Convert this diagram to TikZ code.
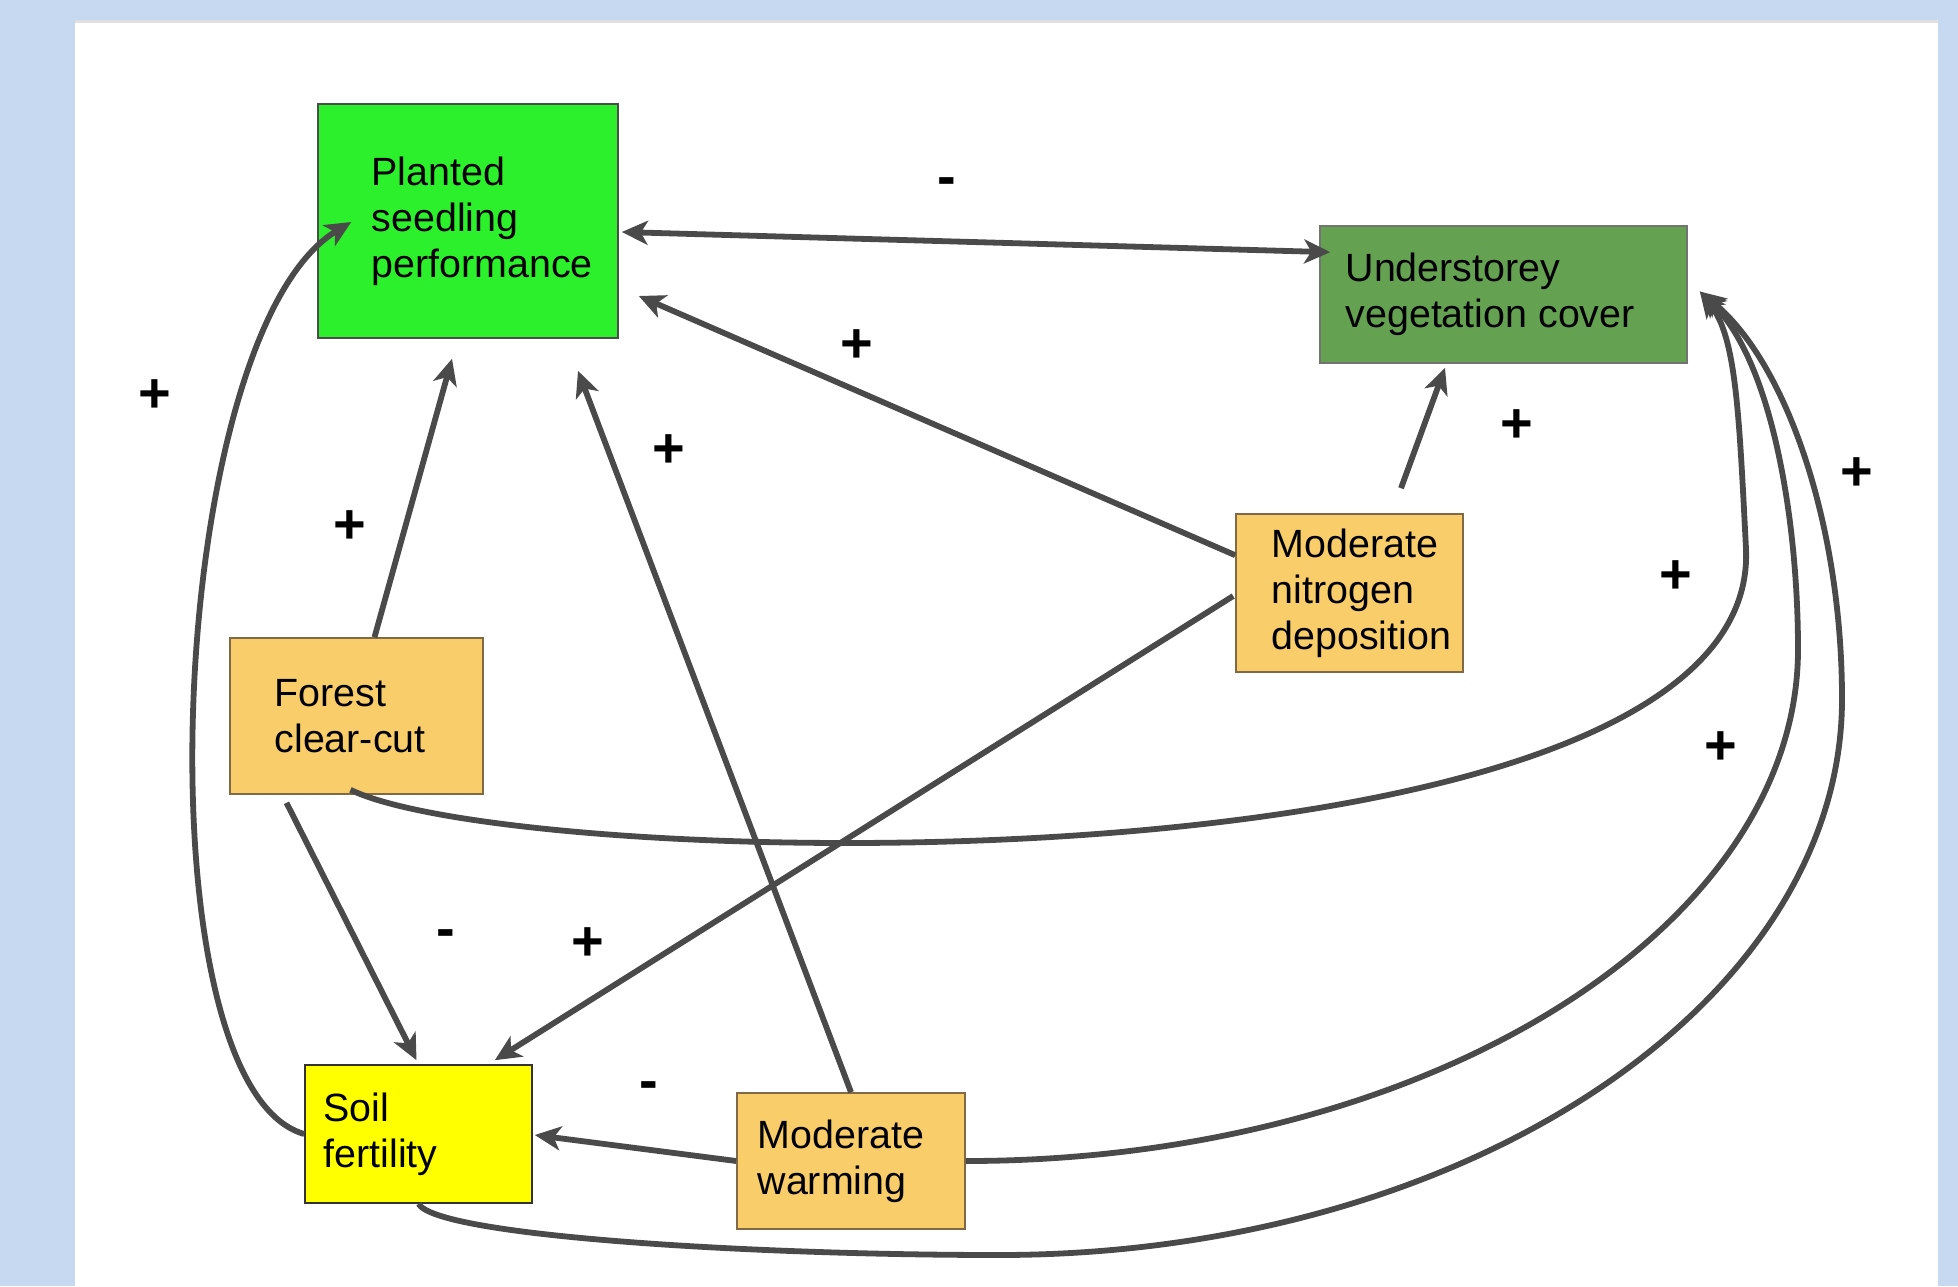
\documentclass[tikz,border=0pt]{standalone}
\usepackage{fontspec}
\setmainfont{Liberation Sans}
\usetikzlibrary{arrows.meta,calc}
\definecolor{bgblue}{RGB}{198,217,240}
\definecolor{bright}{RGB}{44,240,44}
\definecolor{darkgr}{RGB}{100,162,82}
\definecolor{orng}{RGB}{249,205,106}
\definecolor{yel}{RGB}{255,255,0}
\definecolor{arr}{RGB}{74,74,74}
\definecolor{edgebr}{RGB}{130,105,70}
\begin{document}
\begin{tikzpicture}[x=0.5pt,y=-0.5pt,
  box/.style={rectangle, line width=0.8pt, inner sep=0pt},
  txt/.style={inner sep=0pt, align=left, anchor=west, font=\fontsize{19.7pt}{23pt}\selectfont},
  con/.style={draw=arr, line width=2.9pt, -{Stealth[length=13pt,width=12pt,inset=3.5pt]}},
  dcon/.style={draw=arr, line width=2.9pt, {Stealth[length=13pt,width=12pt,inset=3.5pt]}-{Stealth[length=13pt,width=12pt,inset=3.5pt]}},
  sgn/.style={inner sep=0pt, font=\fontsize{28pt}{28pt}\selectfont\bfseries}]
\useasboundingbox (0,0) rectangle (1958,1286);
\fill[bgblue] (0,0) rectangle (1958,1286);
\fill[white] (75,20) rectangle (1938,1286);
\draw[black!12, line width=1.5pt] (75,21) -- (1938,21);

% boxes
\node[box, fill=bright, draw=black!70, minimum width=150pt, minimum height=117pt] (ps) at (468,221) {};
\node[txt] (pst) at ($(ps.west)+(54,0)$) {Planted\\seedling\\performance};
\node[box, fill=darkgr, draw=black!55, minimum width=183.5pt, minimum height=68.5pt] (uv) at (1503.5,294.5) {};
\node[txt] (uvt) at ($(uv.west)+(26,0)$) {Understorey\\vegetation cover};
\node[box, fill=orng, draw=edgebr, minimum width=113.5pt, minimum height=79pt] (nd) at (1349.5,593) {};
\node[txt] (ndt) at ($(nd.west)+(36,0)$) {Moderate\\nitrogen\\deposition};
\node[box, fill=orng, draw=edgebr, minimum width=126.5pt, minimum height=78pt] (fc) at (356.5,716) {};
\node[txt] (fct) at ($(fc.west)+(45,0)$) {Forest\\clear-cut};
\node[box, fill=yel, draw=black!80, minimum width=113.5pt, minimum height=69pt] (sf) at (418.5,1134) {};
\node[txt] (sft) at ($(sf.west)+(19,0)$) {Soil\\fertility};
\node[box, fill=orng, draw=edgebr, minimum width=114pt, minimum height=68pt] (mw) at (851,1161) {};
\node[txt] (mwt) at ($(mw.west)+(21,0)$) {Moderate\\warming};

% straight connectors
\draw[dcon] ($(ps.east)+(3,11)$) -- ($(uv.north west)+(11,27)$);
\draw[con] ($(nd.north west)+(0,42)$) -- ($(ps.east)+(20,75)$);
\draw[con] ($(nd.north)+(51.5,-25)$) -- ($(uv.south)+(-58.5,4)$);
\draw[con] ($(nd.west)+(-2,3)$) -- ($(sf.north east)+(-38,-4)$);
\draw[con] ($(fc.north)+(18,0)$) -- ($(ps.south)+(-16,20)$);
\draw[con] ($(fc.south)+(-70,8)$) -- ($(sf.north)+(-2,-4)$);
\draw[con] (mw.north) -- ($(ps.south)+(110,32)$);
\draw[con] (mw.west) -- ($(sf.east)+(2,1)$);

% curved connectors
\coordinate (uvtip) at ($(uv.east)+(12,-3)$);
\draw[con] ($(fc.south)+(-6,-5)$) .. controls (524,874) and (1761,899) .. (1746,549)
  .. controls (1739,412) and (1736,337) .. (uvtip);
\draw[con] (mw.east) .. controls (1424,1161) and (1798,930) .. (1798,649)
  .. controls (1798,524) and (1773,362) .. (uvtip);
\draw[con] (sf.south) .. controls (437,1236) and (749,1255) .. (999,1255)
  .. controls (1462,1255) and (1842,1005) .. (1842,699)
  .. controls (1842,524) and (1786,362) .. (uvtip);
\draw[con] (sf.west) .. controls (137,1086) and (165,335) .. ($(ps.west)+(34,1)$);

% signs
\node[sgn] (s1) at (947,187) {-};
\node[sgn] (s2) at (857,346) {+};
\node[sgn] (s3) at (1517,426) {+};
\node[sgn] (s4) at (588,944) {+};
\node[sgn] (s5) at (350,527) {+};
\node[sgn] (s6) at (446,939) {-};
\node[sgn] (s7) at (1676,577) {+};
\node[sgn] (s8) at (669,451) {+};
\node[sgn] (s9) at (649,1091) {-};
\node[sgn] (s10) at (1721,748) {+};
\node[sgn] (s11) at (1857,474) {+};
\node[sgn] (s12) at (155,396) {+};
\end{tikzpicture}
\end{document}
